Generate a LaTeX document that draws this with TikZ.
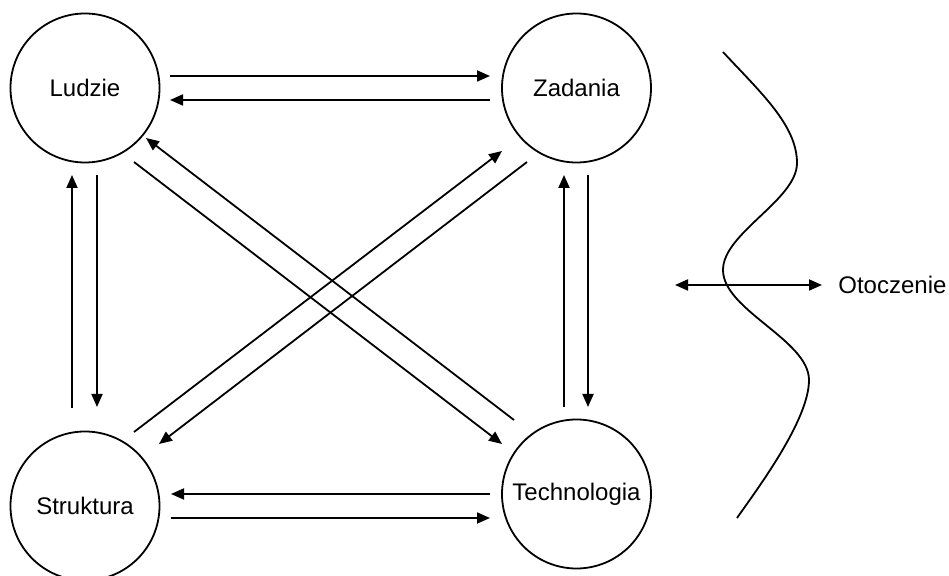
\documentclass[tikz,border=0pt]{standalone}
\usepackage{fontspec}
\setmainfont{Liberation Sans}
\usetikzlibrary{arrows.meta}
\tikzset{%
  czynnik/.style  = {shape=circle, draw, line width=0.9pt,%
                     minimum size=74.5pt, inner sep=0pt},%
  strzalka/.style = {line width=0.9pt, -{Triangle[length=6.5pt,width=5.5pt]}},%
  obustr/.style   = {line width=0.9pt,%
                     {Triangle[length=6.5pt,width=5.5pt]}-{Triangle[length=6.5pt,width=5.5pt]}},%
  granica/.style  = {line width=0.9pt}%
}
\begin{document}
\begin{tikzpicture}[x=0.5pt,y=-0.5pt, every node/.style = {font=\fontsize{12}{14}\selectfont}]%
	\useasboundingbox (0,0) rectangle (949,576);
	% cztery czynniki
	\node (L) at (85,88)    [czynnik] {Ludzie};%
	\node (Z) at (576.5,88) [czynnik] {Zadania};%
	\node (S) at (85,506)   [czynnik] {Struktura};%
	\node (T) at (576.5,494)[czynnik] {Technologia};%
	% poziome
	\draw [strzalka] ([shift={(85,-12)}]L.center) -- ([shift={(-86.5,-12)}]Z.center);%
	\draw [strzalka] ([shift={(-86.5,12)}]Z.center) -- ([shift={(85,12)}]L.center);%
	\draw [strzalka] ([shift={(-86.5,0)}]T.center) -- ([shift={(86,-12)}]S.center);%
	\draw [strzalka] ([shift={(86,12)}]S.center) -- ([shift={(-86.5,24)}]T.center);%
	% pionowe
	\draw [strzalka] ([shift={(-13,-98)}]S.center) -- ([shift={(-13,87)}]L.center);%
	\draw [strzalka] ([shift={(12,87)}]L.center) -- ([shift={(12,-99)}]S.center);%
	\draw [strzalka] ([shift={(-12.5,-87)}]T.center) -- ([shift={(-12.5,87)}]Z.center);%
	\draw [strzalka] ([shift={(11.5,87)}]Z.center) -- ([shift={(11.5,-87)}]T.center);%
	% ukosne
	\draw [strzalka] ([shift={(49,74)}]L.center) -- ([shift={(-74.5,-50)}]T.center);%
	\draw [strzalka] ([shift={(-62.5,-74)}]T.center) -- ([shift={(61,50)}]L.center);%
	\draw [strzalka] ([shift={(49,-74)}]S.center) -- ([shift={(-74.5,63)}]Z.center);%
	\draw [strzalka] ([shift={(-49.5,74)}]Z.center) -- ([shift={(74,-62)}]S.center);%
	% otoczenie
	\draw [granica] (723,52) .. controls (760,92) and (797,125) .. (797,163)%
		.. controls (797,200) and (723,233) .. (723,270)%
		.. controls (723,310) and (809,340) .. (809,380)%
		.. controls (809,420) and (758,488) .. (737,518);%
	\node (O) at (838,285) [anchor=west, inner sep=0pt] {Otoczenie};%
	\coordinate (wej) at (675,285);%
	\draw [obustr] (wej) -- ([xshift=-8pt]O.west);%
\end{tikzpicture}
\end{document}
